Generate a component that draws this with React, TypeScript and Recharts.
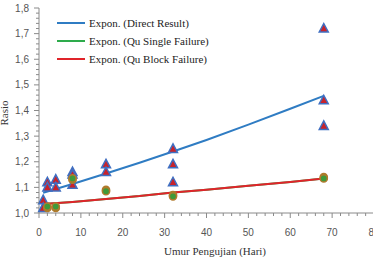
import React from "react";
import {
	ComposedChart,
	Line,
	Scatter,
	XAxis,
	YAxis,
	Legend,
} from "recharts";

// measured points (umur in days, rasio)
const directX = [1, 1, 2, 2, 4, 4, 8, 8, 8, 16, 16, 32, 32, 32, 68, 68, 68];
const directY = [1.05, 1.02, 1.12, 1.1, 1.13, 1.1, 1.16, 1.15, 1.11, 1.19, 1.16, 1.25, 1.19, 1.12, 1.72, 1.44, 1.34];

const quX = [2, 4, 8, 16, 32, 68];
const singleY = [1.02, 1.02, 1.13, 1.09, 1.07, 1.14];
const blockY = [1.025, 1.025, 1.135, 1.085, 1.065, 1.135];

// trend lines
const trendX = [1, 8, 16, 24, 32, 40, 50, 60, 68];
const directTrend = [1.079, 1.113, 1.154, 1.196, 1.24, 1.285, 1.345, 1.407, 1.457];
const singleTrend = [1.035, 1.043, 1.055, 1.066, 1.08, 1.091, 1.106, 1.121, 1.135];
const blockTrend = [1.035, 1.043, 1.055, 1.066, 1.08, 1.091, 1.106, 1.121, 1.135];

const xTicks = [0, 2, 4, 6, 8, 10, 12, 14, 16, 18, 20, 22, 24, 26, 28, 30, 32, 34, 36, 38, 40, 42, 44, 46, 48, 50, 52, 54, 56, 58, 60, 62, 64, 66, 68, 70, 72, 74, 76, 78, 80];
const yTicks = [1.0, 1.02, 1.04, 1.06, 1.08, 1.1, 1.12, 1.14, 1.16, 1.18, 1.2, 1.22, 1.24, 1.26, 1.28, 1.3, 1.32, 1.34, 1.36, 1.38, 1.4, 1.42, 1.44, 1.46, 1.48, 1.5, 1.52, 1.54, 1.56, 1.58, 1.6, 1.62, 1.64, 1.66, 1.68, 1.7, 1.72, 1.74, 1.76, 1.78, 1.8];

const legendNames = ["Expon. (Direct Result)", "Expon. (Qu Single Failure)", "Expon. (Qu Block Failure)"];
const legendColors = ["#2f7cc3", "#2eab4c", "#e0242a"];

const zip = (xs: number[], ys: number[]) => xs.map((x, i) => ({ x, y: ys[i] }));

const directData = zip(directX, directY);
const singleData = zip(quX, singleY);
const blockData = zip(quX, blockY);

const AXIS = "#8a8a8a";
const TICK_FONT = "'Liberation Sans', Arial, sans-serif";
const SERIF = "'Liberation Serif', 'Times New Roman', serif";

const YTick = (props: any) => {
	const { x, y, payload } = props;
	const v = payload.value;
	const major = Math.round(v * 100) % 10 === 0;
	return (
		<g>
			<line x1={x - (major ? 5 : 3)} x2={x} y1={y} y2={y} stroke={AXIS} />
			{major && (
				<text x={x - 10} y={y} textAnchor="end" dominantBaseline="central" fontSize={10} fontFamily={TICK_FONT} fill="#555">
					{v.toFixed(1).replace(".", ",")}
				</text>
			)}
		</g>
	);
};

const XTick = (props: any) => {
	const { x, y, payload } = props;
	const v = payload.value;
	const major = v % 10 === 0;
	return (
		<g>
			<line x1={x} x2={x} y1={y} y2={y + (major ? 5 : 3)} stroke={AXIS} />
			{major && (
				<text x={x} y={y + 19} textAnchor="middle" dominantBaseline="central" fontSize={10} fontFamily={TICK_FONT} fill="#555">
					{v}
				</text>
			)}
		</g>
	);
};

const Triangle = (props: any) => {
	const { cx, cy } = props;
	return (
		<polygon
			points={`${cx},${cy - 5} ${cx + 4.5},${cy + 3.5} ${cx - 4.5},${cy + 3.5}`}
			fill="#c8232b"
			stroke="#3f6fc2"
			strokeWidth={1.5}
		/>
	);
};

const Dot = (props: any) => {
	const { cx, cy } = props;
	return <circle cx={cx} cy={cy} r={3.6} fill="#3f9a3a" stroke="#b27a2c" strokeWidth={1.5} />;
};

const LegendBox = () => (
	<svg width={160} height={54}>
		{legendNames.map((name, i) => (
			<g key={name}>
				<line x1={1} x2={29} y1={9 + i * 18} y2={9 + i * 18} stroke={legendColors[i]} strokeWidth={2} />
				<text x={33} y={9 + i * 18} dominantBaseline="central" fontSize={11} fontFamily={SERIF} fill="#222">
					{name}
				</text>
			</g>
		))}
	</svg>
);

export default function App() {
	return (
		<div style={{ position: "absolute", left: 0, top: 0, width: 373, height: 257, overflow: "hidden", background: "#fff" }}>
			<ComposedChart width={380} height={257} margin={{ top: 8, right: 6, bottom: 0, left: 0 }}>
				<XAxis
					dataKey="x"
					type="number"
					domain={[0, 80]}
					ticks={xTicks}
					interval={0}
					height={44}
					tickSize={0}
					tickMargin={0}
					tick={<XTick />}
					stroke={AXIS}
					label={{
						content: () => (
							<text x={215} y={251} textAnchor="middle" dominantBaseline="central" fontSize={11} fontFamily={SERIF} fill="#333">
								Umur Pengujian (Hari)
							</text>
						),
					}}
				/>
				<YAxis
					dataKey="y"
					type="number"
					domain={[1.0, 1.8]}
					ticks={yTicks}
					interval={0}
					width={39}
					tickSize={0}
					tickMargin={0}
					tick={<YTick />}
					stroke={AXIS}
					label={{
						content: () => (
							<text x={4} y={113} transform="rotate(-90 4 113)" textAnchor="middle" dominantBaseline="central" fontSize={11} fontFamily={SERIF} fill="#333">
								Rasio
							</text>
						),
					}}
				/>
				<Legend layout="vertical" align="center" verticalAlign="middle" wrapperStyle={{ left: 56, top: 14, width: 160 }} content={() => <LegendBox />} />
				<Line data={zip(trendX, directTrend)} dataKey="y" stroke={legendColors[0]} strokeWidth={2} dot={false} isAnimationActive={false} legendType="none" />
				<Line data={zip(trendX, singleTrend)} dataKey="y" stroke={legendColors[1]} strokeWidth={2} dot={false} isAnimationActive={false} legendType="none" />
				<Line data={zip(trendX, blockTrend)} dataKey="y" stroke={legendColors[2]} strokeWidth={2} dot={false} isAnimationActive={false} legendType="none" />
				<Scatter data={directData} dataKey="y" shape={<Triangle />} isAnimationActive={false} />
				<Scatter data={singleData} dataKey="y" shape={<Dot />} isAnimationActive={false} />
				<Scatter data={blockData} dataKey="y" shape={<Dot />} isAnimationActive={false} />
			</ComposedChart>
		</div>
	);
}
